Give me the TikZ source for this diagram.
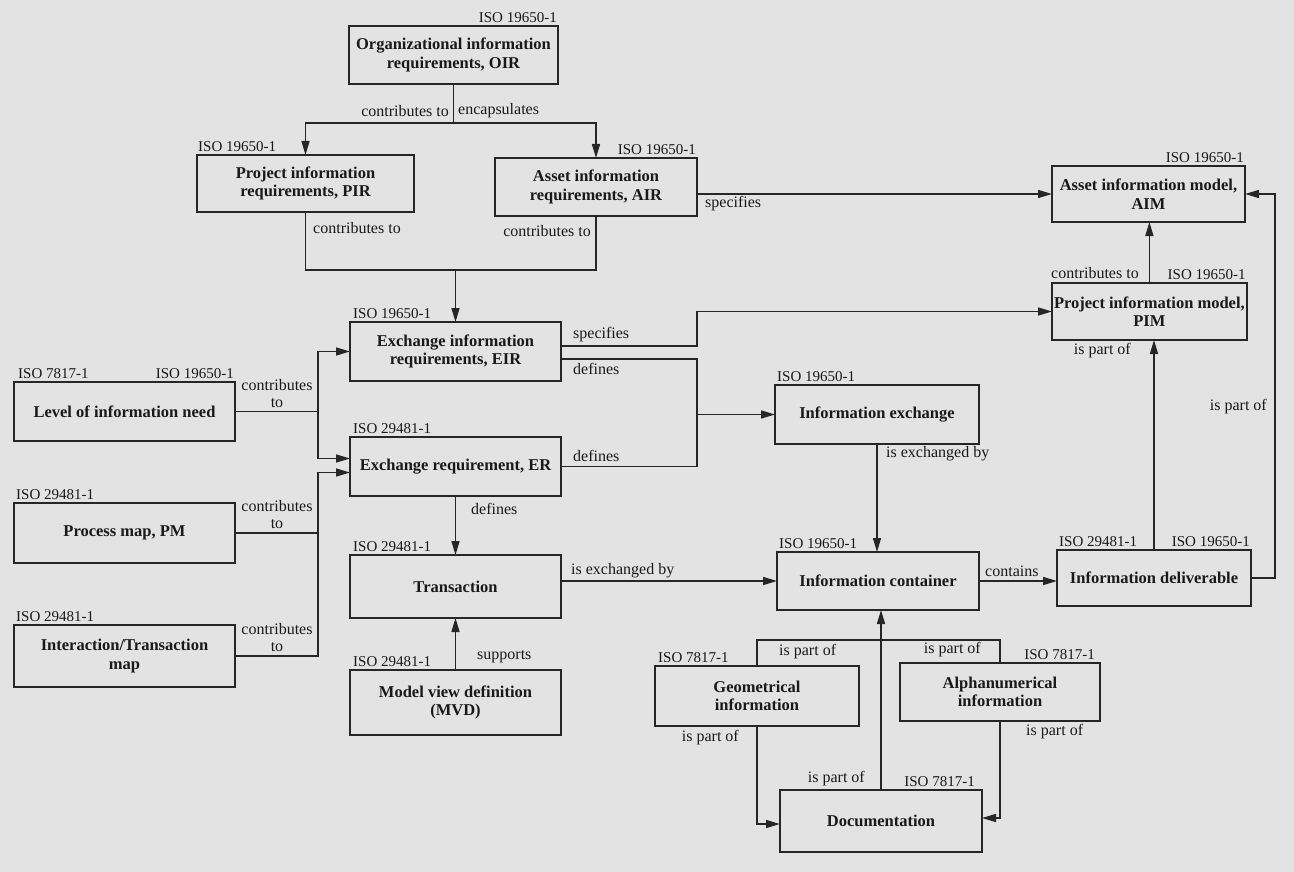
\documentclass[tikz,border=0pt]{standalone}
\usepackage{fontspec}
\setmainfont{Liberation Serif}
\usetikzlibrary{arrows.meta}
\definecolor{bgc}{RGB}{226,227,226}
\definecolor{linec}{RGB}{38,38,38}
\definecolor{txtc}{RGB}{25,25,25}
\newcommand\bx[6]{\node[box,minimum width={#4-#2},minimum height={#5-#3},anchor=north west] (#1) at (#2,#3) {#6};}
\begin{document}
\begin{tikzpicture}[x=1pt,y=-1pt,
  box/.style={draw=linec,line width=1.6pt,fill=bgc,inner sep=2pt,outer sep=0pt,align=center,text=txtc,
    font=\bfseries\fontsize{16.5}{18.5}\selectfont},
  iso/.style={inner sep=1pt,text=txtc,font=\fontsize{15}{17}\selectfont},
  lbl/.style={inner sep=1pt,text=txtc,align=center,font=\fontsize{16}{17}\selectfont},
  conn/.style={draw=linec,line width=1.5pt},
  arr/.style={conn,-{Triangle[length=14pt,width=8pt]}}]
\fill[bgc] (0,0) rectangle (1294,872);
\useasboundingbox (0,0) rectangle (1294,872);

% boxes
\bx{oir}{349}{26}{558}{84}{Organizational information\\requirements, OIR}
\bx{pir}{197}{155}{414}{212}{Project information\\requirements, PIR}
\bx{air}{495}{158}{697}{216}{Asset information\\requirements, AIR}
\bx{aim}{1052}{166}{1245}{222}{Asset information model,\\AIM}
\bx{pim}{1052}{283}{1246}{340}{Project information model,\\PIM}
\bx{eir}{350}{322}{561}{381}{Exchange information\\requirements, EIR}
\bx{loin}{14}{382}{235}{441}{Level of information need}
\bx{er}{350}{437}{561}{496}{Exchange requirement, ER}
\bx{iex}{775}{385}{979}{444}{Information exchange}
\bx{pm}{14}{503}{235}{563}{Process map, PM}
\bx{tr}{350}{555}{561}{618}{Transaction}
\bx{ic}{777}{552}{979}{610}{Information container}
\bx{id}{1057}{550}{1251}{606}{Information deliverable}
\bx{itm}{14}{625}{235}{687}{Interaction/Transaction\\map}
\bx{mvd}{350}{670}{561}{735}{Model view definition\\(MVD)}
\bx{geo}{655}{666}{859}{726}{Geometrical\\information}
\bx{alp}{900}{663}{1100}{721}{Alphanumerical\\information}
\bx{doc}{780}{790}{982}{852}{Documentation}

% ISO labels
\node[iso,anchor=south east] (oiriso) at ([yshift=2pt]oir.north east) {ISO 19650-1};
\node[iso,anchor=south west] (piriso) at ([yshift=2pt]pir.north west) {ISO 19650-1};
\node[iso,anchor=south east] (airiso) at ([yshift=2pt]air.north east) {ISO 19650-1};
\node[iso,anchor=south east] (aimiso) at ([yshift=2pt]aim.north east) {ISO 19650-1};
\node[iso,anchor=south east] (pimiso) at ([yshift=2pt]pim.north east) {ISO 19650-1};
\node[iso,anchor=south west] (eiriso) at ([xshift=2pt,yshift=2pt]eir.north west) {ISO 19650-1};
\node[iso,anchor=south west] (loiniso) at ([xshift=3pt,yshift=2pt]loin.north west) {ISO 7817-1};
\node[iso,anchor=south east] (loiniso2) at ([yshift=2pt]loin.north east) {ISO 19650-1};
\node[iso,anchor=south west] (eriso) at ([xshift=2pt,yshift=2pt]er.north west) {ISO 29481-1};
\node[iso,anchor=south west] (iexiso) at ([xshift=1pt,yshift=2pt]iex.north west) {ISO 19650-1};
\node[iso,anchor=south west] (pmiso) at ([xshift=1pt,yshift=2pt]pm.north west) {ISO 29481-1};
\node[iso,anchor=south west] (triso) at ([xshift=2pt,yshift=2pt]tr.north west) {ISO 29481-1};
\node[iso,anchor=south west] (iciso) at ([xshift=1pt,yshift=2pt]ic.north west) {ISO 19650-1};
\node[iso,anchor=south west] (idiso) at ([xshift=1pt,yshift=2pt]id.north west) {ISO 29481-1};
\node[iso,anchor=south east] (idiso2) at ([yshift=2pt]id.north east) {ISO 19650-1};
\node[iso,anchor=south west] (itmiso) at ([xshift=1pt,yshift=2pt]itm.north west) {ISO 29481-1};
\node[iso,anchor=south west] (mvdiso) at ([xshift=2pt,yshift=2pt]mvd.north west) {ISO 29481-1};
\node[iso,anchor=south west] (geoiso) at ([xshift=2pt,yshift=2pt]geo.north west) {ISO 7817-1};
\node[iso,anchor=south east] (alpiso) at ([xshift=-4pt,yshift=2pt]alp.north east) {ISO 7817-1};
\node[iso,anchor=south east] (dociso) at ([xshift=-6pt,yshift=2pt]doc.north east) {ISO 7817-1};

% OIR -> PIR, AIR
\coordinate (j1) at (453.5,123);
\draw[conn] (oir.south) -- (oir.south |- j1);
\draw[arr] (oir.south |- j1) -| (pir.north);
\draw[arr] (oir.south |- j1) -| (air.north);
\node[lbl,anchor=east] (l1) at (450,111) {contributes to};
\node[lbl,anchor=west] (l2) at (457,111) {encapsulates};

% PIR, AIR -> EIR
\coordinate (j2) at (455.5,270);
\draw[conn] (pir.south) |- (j2) -| (air.south);
\draw[arr] (eir.north |- j2) -- (eir.north);
\node[lbl,anchor=west] (l3) at (312,228) {contributes to};
\node[lbl,anchor=east] (l4) at (592,231) {contributes to};

% AIR -> AIM
\draw[arr] (air.east |- aim.west) -- (aim.west);
\node[lbl,anchor=north west] (l5) at (704,195) {specifies};

% PIM -> AIM
\draw[arr] (pim.north) -- (pim.north |- aim.south);
\node[lbl,anchor=south west] (l6) at (1050,280) {contributes to};

% EIR specifies PIM
\coordinate (s1) at (697,346);
\draw[arr] (eir.east |- s1) -- (s1) |- (pim.west);
\node[lbl,anchor=south west] (l7) at (572,343) {specifies};

% EIR, ER define information exchange
\coordinate (d1) at (697,359);
\draw[conn] (eir.east |- d1) -- (d1) |- (er.east);
\draw[arr] (d1 |- iex.west) -- (iex.west);
\node[lbl,anchor=north west] (l8) at (572,362) {defines};
\node[lbl,anchor=south west] (l9) at (572,463) {defines};

% LOIN, PM, ITM -> EIR, ER
\coordinate (v1) at (318,0);
\coordinate (eru) at ([yshift=8pt]er.west);
\coordinate (erl) at ([yshift=-6pt]er.west);
\draw[conn] (loin.east) -- (v1 |- loin.east);
\draw[arr] (v1 |- loin.east) |- (eir.west);
\draw[arr] (v1 |- loin.east) |- (eru);
\draw[arr] (itm.east) -| (v1 |- erl) -- (erl);
\draw[conn] (pm.east) -- (v1 |- pm.east);
\node[lbl,anchor=south] (l10) at (277,409) {contributes\\to};
\node[lbl,anchor=south] (l11) at (277,530) {contributes\\to};
\node[lbl,anchor=south] (l12) at (277,653) {contributes\\to};

% ER -> Transaction, MVD -> Transaction
\draw[arr] (er.south) -- (tr.north);
\node[lbl,anchor=west] (l13) at (470,509) {defines};
\draw[arr] (mvd.north) -- (tr.south);
\node[lbl,anchor=west] (l14) at (476,657) {supports};

% Transaction -> IC
\draw[arr] (tr.east |- ic.west) -- (ic.west);
\node[lbl,anchor=south west] (l15) at (570,579) {is exchanged by};

% IEx -> IC
\draw[arr] (iex.south) -- (iex.south |- ic.north);
\node[lbl,anchor=west] (l16) at (885,454) {is exchanged by};

% IC -> ID
\draw[arr] (ic.east) -- (ic.east -| id.west);
\node[lbl,anchor=south west] (l17) at (984,578) {contains};

% ID -> PIM, ID -> AIM
\draw[arr] (id.north) -- (id.north |- pim.south);
\node[lbl,anchor=north east] (l18) at (1132,342) {is part of};
\coordinate (r1) at (1275,0);
\draw[arr] (id.east) -| (r1 |- aim.east) -- (aim.east);
\node[lbl,anchor=east] (l19) at (1268,407) {is part of};

% Geo, Alp, Doc -> IC
\coordinate (h) at (0,640);
\draw[conn] (geo.north) -- (geo.north |- h) -- (alp.north |- h) -- (alp.north);
\draw[arr] (doc.north) -- (doc.north |- ic.south);
\node[lbl,anchor=west] (l20) at (778,652) {is part of};
\node[lbl,anchor=east] (l21) at (982,650) {is part of};
\node[lbl,anchor=south east] (l22) at (866,787) {is part of};

% Geo -> Doc, Alp -> Doc
\draw[arr] (geo.south) |- ([yshift=-3pt]doc.west);
\draw[arr] (alp.south) |- ([yshift=3pt]doc.east);
\node[lbl,anchor=north east] (l23) at (740,729) {is part of};
\node[lbl,anchor=north west] (l24) at (1025,723) {is part of};
\end{tikzpicture}
\end{document}
